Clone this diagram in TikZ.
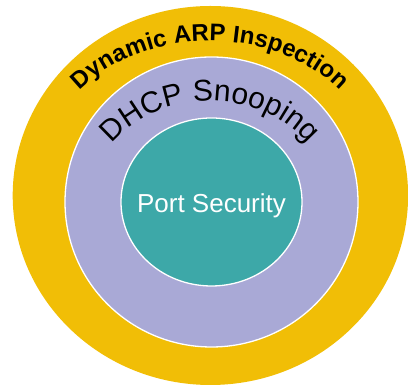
\documentclass[tikz,border=0pt]{standalone}
\usepackage{fontspec}
\setmainfont{Liberation Sans}
\usetikzlibrary{decorations.text}

\definecolor{ringYellow}{RGB}{241,190,6}
\definecolor{ringLavender}{RGB}{169,169,214}
\definecolor{ringTeal}{RGB}{61,168,168}

\begin{document}
\begin{tikzpicture}[x=1pt,y=1pt,
    ring/.style={draw=white,line width=1.3pt},
    arctext/.style={decorate,decoration={text along path,text align=fit to path,text={#1}}}]
        \useasboundingbox (0,0) rectangle (408,387);

        % Outer ring
        \fill [ringYellow] (210.4,191.5) ellipse [x radius=197.7, y radius=189.5];
        % Middle ring
        \draw [ring,fill=ringLavender] (211.5,185) ellipse [x radius=146.5, y radius=145];
        % Inner disc
        \draw [ring,fill=ringTeal] (211.5,185) ellipse [x radius=90.5, y radius=84];

        % Text Node
        \node (portsec) [anchor=base,text=white,font=\fontsize{26}{30}\selectfont] at (211.5,174) {Port Security};

        % Curved labels
        \path [arctext={|\fontsize{24}{28}\selectfont\bfseries|Dynamic ARP Inspection}]
            (210,222) ++(143:163 and 124) arc [start angle=143, end angle=37, x radius=163, y radius=124];
        \path [arctext={|\fontsize{30}{34}\selectfont|DHCP Snooping}]
            (210,184) ++(144.7:120 and 102) arc [start angle=144.7, end angle=35.3, x radius=120, y radius=102];

\end{tikzpicture}
\end{document}
